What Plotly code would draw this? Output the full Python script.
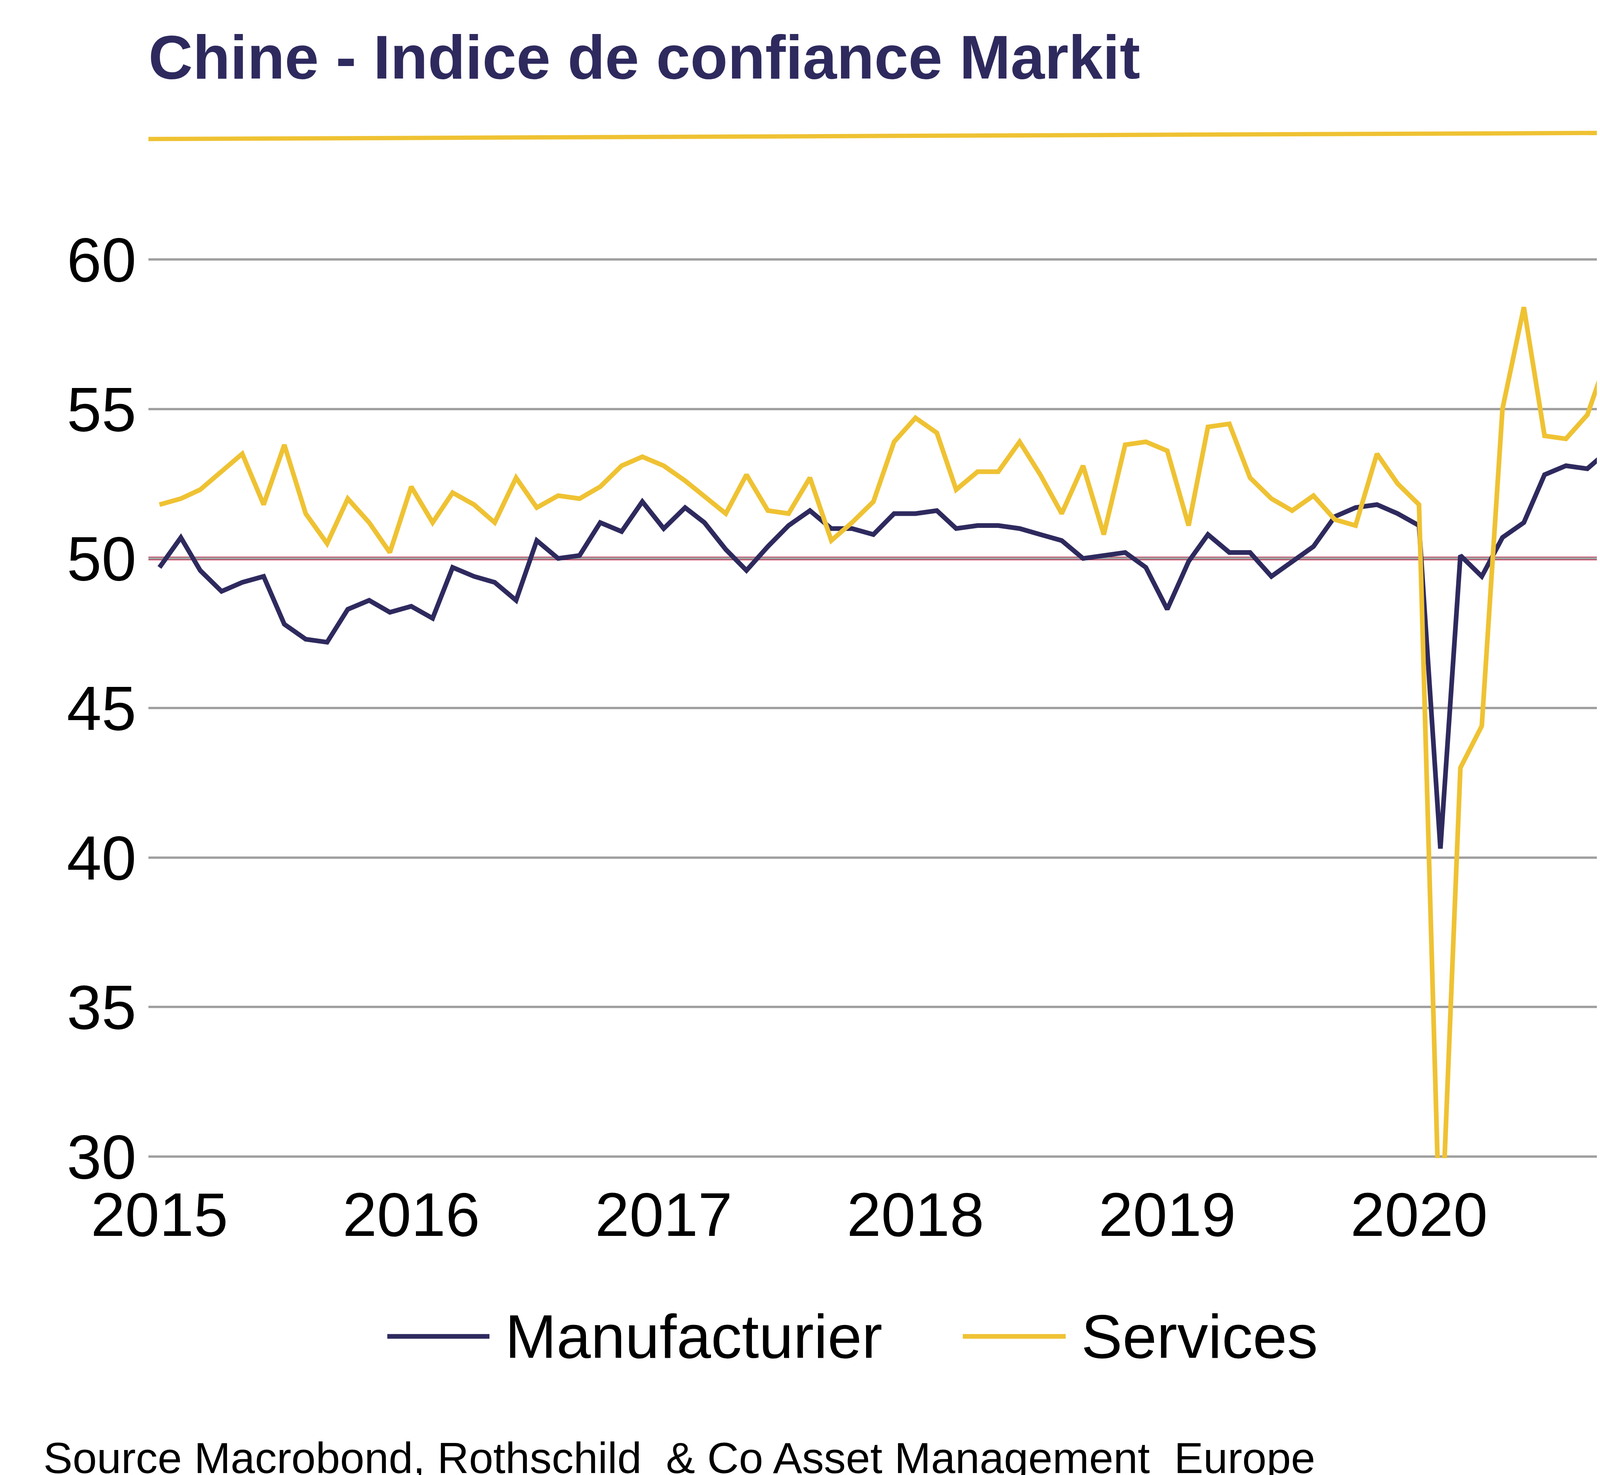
import plotly.graph_objects as go
import pandas as pd

# monthly, Jan 2015 - Oct 2020
dates = pd.date_range("2015-01-01", periods=70, freq="MS")

manufacturier = [
    49.7, 50.7, 49.6, 48.9, 49.2, 49.4, 47.8, 47.3, 47.2, 48.3, 48.6, 48.2,
    48.4, 48.0, 49.7, 49.4, 49.2, 48.6, 50.6, 50.0, 50.1, 51.2, 50.9, 51.9,
    51.0, 51.7, 51.2, 50.3, 49.6, 50.4, 51.1, 51.6, 51.0, 51.0, 50.8, 51.5,
    51.5, 51.6, 51.0, 51.1, 51.1, 51.0, 50.8, 50.6, 50.0, 50.1, 50.2, 49.7,
    48.3, 49.9, 50.8, 50.2, 50.2, 49.4, 49.9, 50.4, 51.4, 51.7, 51.8, 51.5,
    51.1, 40.3, 50.1, 49.4, 50.7, 51.2, 52.8, 53.1, 53.0, 53.6,
]
services = [
    51.8, 52.0, 52.3, 52.9, 53.5, 51.8, 53.8, 51.5, 50.5, 52.0, 51.2, 50.2,
    52.4, 51.2, 52.2, 51.8, 51.2, 52.7, 51.7, 52.1, 52.0, 52.4, 53.1, 53.4,
    53.1, 52.6, 52.1, 51.5, 52.8, 51.6, 51.5, 52.7, 50.6, 51.2, 51.9, 53.9,
    54.7, 54.2, 52.3, 52.9, 52.9, 53.9, 52.8, 51.5, 53.1, 50.8, 53.8, 53.9,
    53.6, 51.1, 54.4, 54.5, 52.7, 52.0, 51.6, 52.1, 51.3, 51.1, 53.5, 52.5,
    51.8, 26.5, 43.0, 44.4, 55.0, 58.4, 54.1, 54.0, 54.8, 56.8,
]

navy = "#2E2A5E"
yellow = "#EFC233"

fig = go.Figure()
fig.add_trace(go.Scatter(x=dates, y=manufacturier, name="Manufacturier",
                         mode="lines", line=dict(color=navy, width=12)))
fig.add_trace(go.Scatter(x=dates, y=services, name="Services",
                         mode="lines", line=dict(color=yellow, width=12)))

# 50 threshold line, drawn under the series
fig.add_shape(type="line", xref="paper", x0=0, x1=1, yref="y", y0=50, y1=50,
              line=dict(color="#C0143C", width=9), layer="below")
# yellow rule under the title
fig.add_shape(type="line", xref="paper", yref="paper", x0=0, x1=1.015,
              y0=1.132, y1=1.139, line=dict(color=yellow, width=11))

# hand-made legend (long line samples like the reference)
leg_y = -0.198
for x0, x1, col, label in [(0.1625, 0.232, navy, "Manufacturier"),
                           (0.554, 0.624, yellow, "Services")]:
    fig.add_shape(type="line", xref="paper", yref="paper", x0=x0, x1=x1,
                  y0=leg_y, y1=leg_y, line=dict(color=col, width=12))
    fig.add_annotation(text=label, xref="paper", yref="paper", x=x1 + 0.01,
                       y=leg_y, xanchor="left", yanchor="middle",
                       showarrow=False, font=dict(size=158, color="black"))

fig.update_layout(
    width=4224, height=3775,
    margin=dict(l=372, r=89, t=652, b=819),
    plot_bgcolor="white", paper_bgcolor="white",
    font=dict(family="Liberation Sans, Arial", color="black"),
    title=dict(text="<b>Chine - Indice de confiance Markit</b>",
               x=372 / 4224, xanchor="left", y=0.978, yanchor="top",
               font=dict(size=157, color=navy)),
    showlegend=False,
)
fig.update_xaxes(
    range=["2014-12-16", "2020-10-16"],
    tickvals=pd.date_range("2015-01-01", periods=6, freq="YS"),
    tickformat="%Y", showgrid=False, showline=False, ticks="",
    tickfont=dict(size=158), ticklabelstandoff=40,
)
fig.update_yaxes(
    range=[29.95, 60.05], tickvals=[30, 35, 40, 45, 50, 55, 60],
    showgrid=True, gridcolor="#A0A0A0", gridwidth=6,
    zeroline=False, showline=False, tickfont=dict(size=160),
    ticklabelstandoff=30,
)
fig.add_annotation(text="Source Macrobond, Rothschild  & Co Asset Management  Europe",
                   xref="paper", yref="paper", x=-0.072, y=-0.305,
                   xanchor="left", yanchor="top", showarrow=False,
                   font=dict(size=112, color="black"))

fig.write_html("out.html")
